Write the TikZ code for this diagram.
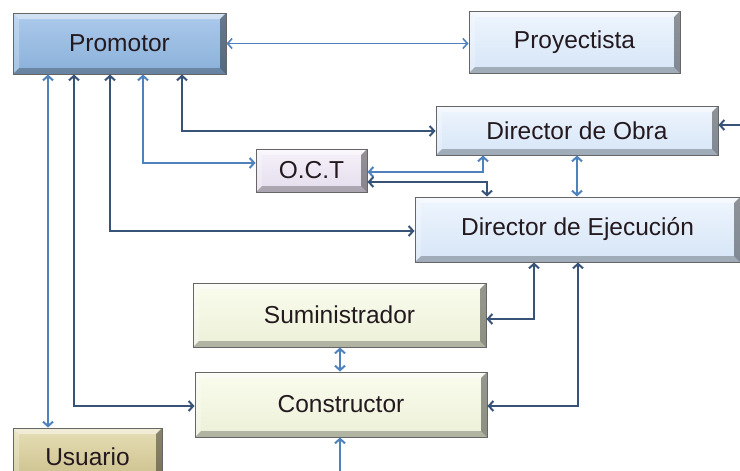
\documentclass[tikz,border=0pt]{standalone}
\usepackage{fontspec}
\setmainfont{Liberation Sans}
\usetikzlibrary{arrows.meta}
\definecolor{lineblue}{RGB}{79,129,189}
\definecolor{linedark}{RGB}{56,83,120}
\definecolor{txt}{RGB}{35,25,30}
\definecolor{promtop}{RGB}{172,202,236}
\definecolor{prombot}{RGB}{138,176,216}
\definecolor{lbtop}{RGB}{238,245,253}
\definecolor{lbbot}{RGB}{214,229,247}
\definecolor{octtop}{RGB}{246,242,250}
\definecolor{octbot}{RGB}{228,220,236}
\definecolor{gytop}{RGB}{250,252,238}
\definecolor{gybot}{RGB}{236,240,215}
\definecolor{ustop}{RGB}{230,222,182}
\definecolor{usbot}{RGB}{200,188,135}
\tikzset{
  box/.style={draw=black!60, line width=1pt, text=txt,
    font=\fontsize{24.5}{28}\selectfont, inner sep=0pt,
    path picture={
      \fill[white,opacity=0.45] (path picture bounding box.north west) -- (path picture bounding box.north east)
        -- ([xshift=-6pt,yshift=-6pt]path picture bounding box.north east) -- ([xshift=6pt,yshift=-6pt]path picture bounding box.north west) -- cycle;
      \fill[white,opacity=0.25] (path picture bounding box.north west) -- ([xshift=6pt,yshift=-6pt]path picture bounding box.north west)
        -- ([xshift=6pt,yshift=6pt]path picture bounding box.south west) -- (path picture bounding box.south west) -- cycle;
      \fill[black,opacity=0.25] (path picture bounding box.south west) -- (path picture bounding box.south east)
        -- ([xshift=-6pt,yshift=6pt]path picture bounding box.south east) -- ([xshift=6pt,yshift=6pt]path picture bounding box.south west) -- cycle;
      \fill[black,opacity=0.4] (path picture bounding box.north east) -- (path picture bounding box.south east)
        -- ([xshift=-6pt,yshift=6pt]path picture bounding box.south east) -- ([xshift=-6pt,yshift=-6pt]path picture bounding box.north east) -- cycle;
    }},
  prombox/.style={box, top color=promtop, bottom color=prombot},
  lbbox/.style={box, top color=lbtop, bottom color=lbbot},
  octbox/.style={box, top color=octtop, bottom color=octbot},
  gybox/.style={box, top color=gytop, bottom color=gybot},
  usbox/.style={box, top color=ustop, bottom color=usbot},
  conn/.style={draw=lineblue, line width=2pt},
  conndark/.style={draw=linedark, line width=2pt},
  >={Straight Barb[length=4.5pt,width=10pt]}
}
\begin{document}
\begin{tikzpicture}[x=1pt,y=-1pt]
\useasboundingbox (0,0) rectangle (740,471);
\node[prombox, minimum width=213pt, minimum height=61pt] (prom) at (119.5,43.5) {Promotor};
\node[lbbox, minimum width=211pt, minimum height=62pt] (proy) at (574.5,42) {Proyectista};
\node[lbbox, minimum width=282pt, minimum height=49pt] (dob) at (577,130.5) {Director de Obra};
\node[lbbox, minimum width=325pt, minimum height=65pt] (dej) at (577.5,229.5) {Director de Ejecución};
\node[octbox, minimum width=111pt, minimum height=43pt] (oct) at (311.5,170.5) {O.C.T};
\node[gybox, minimum width=293pt, minimum height=64pt] (sum) at (339.5,315) {Suministrador};
\node[gybox, minimum width=292pt, minimum height=65pt] (cons) at (341,404.5) {Constructor};
\node[usbox, minimum width=149pt, minimum height=58pt, text depth=0pt] (usu) at (87.5,457) {Usuario};

\draw[conn,line width=1.6pt,<->] (prom.east) -- (prom.east -| proy.west);
\draw[conn,<->] (48,0 |- prom.south) -- (48,0 |- usu.north);
\draw[conndark,<->] (74,0 |- prom.south) |- (cons.west |- 0,406);
\draw[conndark,<->] (110,0 |- prom.south) |- (dej.west |- 0,231);
\draw[conn,<->] (143,0 |- prom.south) |- (oct.west |- 0,163);
\draw[conndark,<->] (182,0 |- prom.south) |- (dob.west |- 0,131);
\draw[conndark,<-] (dob.east |- 0,125) -- (740,125);
\draw[conn,<->] (483,0 |- dob.south) |- (oct.east |- 0,172);
\draw[conndark,<->] (oct.east |- 0,182) -| (487,0 |- dej.north);
\draw[conn,<->] (577,0 |- dob.south) -- (577,0 |- dej.north);
\draw[conndark,<->] (534,0 |- dej.south) |- (sum.east |- 0,319);
\draw[conndark,<->] (578,0 |- dej.south) |- (cons.east |- 0,406);
\draw[conn,<->] (340,0 |- sum.south) -- (340,0 |- cons.north);
\draw[conn,<-] (340,0 |- cons.south) -- (340,471);
\end{tikzpicture}
\end{document}
